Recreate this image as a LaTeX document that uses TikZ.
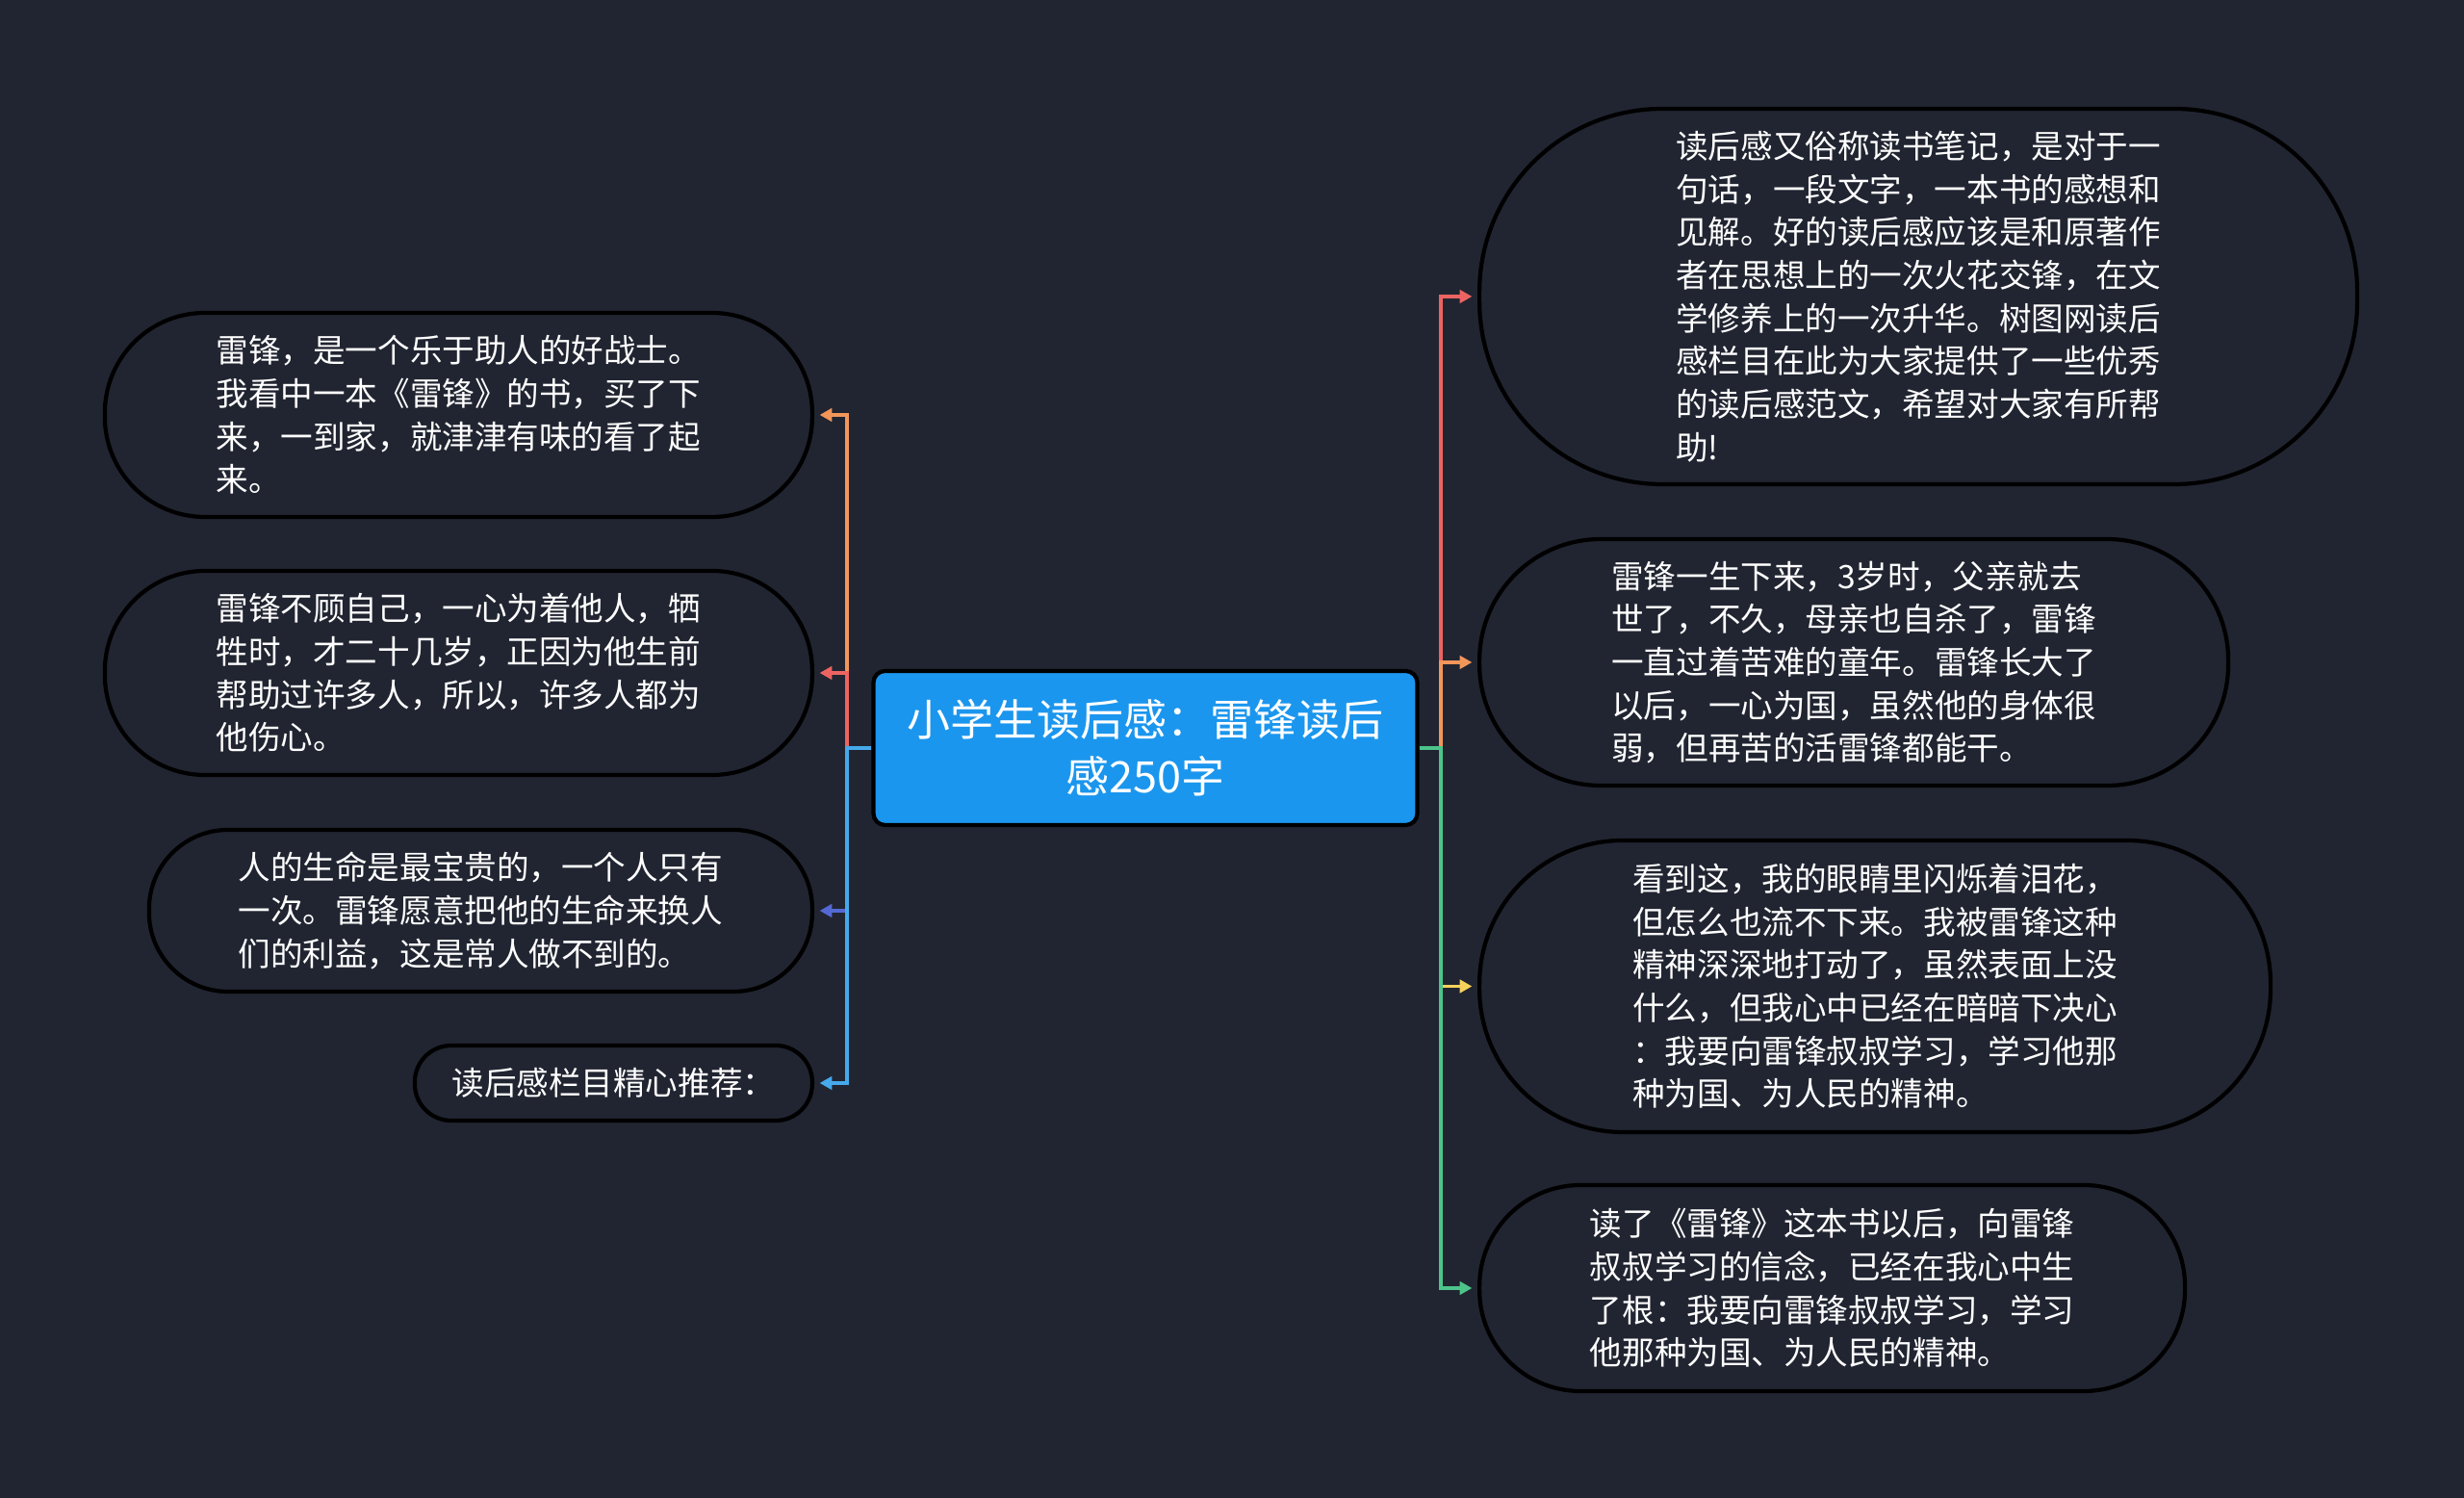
\documentclass[tikz,border=0pt]{standalone}
\usepackage{fontspec}
\setmainfont{Noto Sans CJK SC}
\definecolor{mmback}{RGB}{33,37,49}
\definecolor{mmblue}{RGB}{27,150,238}
\definecolor{mmred}{RGB}{236,100,98}
\definecolor{mmorange}{RGB}{242,150,90}
\definecolor{mmyellow}{RGB}{245,210,90}
\definecolor{mmgreen}{RGB}{76,196,138}
\definecolor{mmindigo}{RGB}{84,104,212}
\definecolor{mmsky}{RGB}{69,169,236}
\usetikzlibrary{arrows.meta,positioning}

\begin{document}
\begin{tikzpicture}[
  leaf/.style={draw=black, fill=mmback, line width=1.2pt, rounded corners=#1, text=white, align=left, font=\fontsize{9.55pt}{12.7pt}\selectfont},
  link/.style={line width=1.1pt, -{Triangle[length=3.6pt,width=3.8pt]}, shorten >=1.6pt},
]
  % background
  \useasboundingbox (0,0) rectangle (25.6,15.56);
  \fill[mmback] (0,0) rectangle (25.6,15.56);
  % root
  \node[draw=black, line width=1.2pt, fill=mmblue, rounded corners=0.12cm, minimum width=5.65cm, minimum height=1.6cm, text=white, align=center, font=\fontsize{12.8pt}{16.7pt}\selectfont] (main) at (11.90,7.79) {小学生读后感：雷锋读后\\感250字};
  % left branches
  \node[leaf=1.04cm, minimum width=7.35cm, minimum height=2.12cm, anchor=east] (l1) at (8.46,11.25) {雷锋，是一个乐于助人的好战士。\\我看中一本《雷锋》的书，买了下\\来，一到家，就津津有味的看了起\\来。};
  \node[leaf=1.04cm, minimum width=7.35cm, minimum height=2.12cm, anchor=east] (l2) at (8.46,8.57) {雷锋不顾自己，一心为着他人，牺\\牲时，才二十几岁，正因为他生前\\帮助过许多人，所以，许多人都为\\他伤心。};
  \node[leaf=0.82cm, minimum width=6.89cm, minimum height=1.68cm, anchor=east] (l3) at (8.46,6.10) {人的生命是最宝贵的，一个人只有\\一次。雷锋愿意把他的生命来换人\\们的利益，这是常人做不到的。};
  \node[leaf=0.38cm, minimum width=4.13cm, minimum height=0.78cm, anchor=east] (l4) at (8.46,4.31) {读后感栏目精心推荐：};
  % right branches
  \node[leaf=1.9cm, minimum width=9.12cm, minimum height=3.9cm, anchor=west] (r1) at (15.35,12.48) {读后感又俗称读书笔记，是对于一\\句话，一段文字，一本书的感想和\\见解。好的读后感应该是和原著作\\者在思想上的一次火花交锋，在文\\学修养上的一次升华。树图网读后\\感栏目在此为大家提供了一些优秀\\的读后感范文，希望对大家有所帮\\助!};
  \node[leaf=1.26cm, minimum width=7.78cm, minimum height=2.56cm, anchor=west] (r2) at (15.35,8.68) {雷锋一生下来，3岁时，父亲就去\\世了，不久，母亲也自杀了，雷锋\\一直过着苦难的童年。雷锋长大了\\以后，一心为国，虽然他的身体很\\弱，但再苦的活雷锋都能干。};
  \node[leaf=1.49cm, minimum width=8.22cm, minimum height=3.03cm, anchor=west] (r3) at (15.35,5.315) {看到这，我的眼睛里闪烁着泪花，\\但怎么也流不下来。我被雷锋这种\\精神深深地打动了，虽然表面上没\\什么，但我心中已经在暗暗下决心\\：我要向雷锋叔叔学习，学习他那\\种为国、为人民的精神。};
  \node[leaf=1.05cm, minimum width=7.33cm, minimum height=2.14cm, anchor=west] (r4) at (15.35,2.18) {读了《雷锋》这本书以后，向雷锋\\叔叔学习的信念，已经在我心中生\\了根：我要向雷锋叔叔学习，学习\\他那种为国、为人民的精神。};
  % connectors
  \draw[link, mmorange] (main.west) -- ++(-0.25,0) |- (l1.east);
  \draw[link, mmred] (main.west) -- ++(-0.25,0) |- (l2.east);
  \draw[link, mmindigo] (main.west) -- ++(-0.25,0) |- (l3.east);
  \draw[link, mmsky] (main.west) -- ++(-0.25,0) |- (l4.east);
  \draw[link, mmred] (main.east) -- ++(0.22,0) |- (r1.west);
  \draw[link, mmorange] (main.east) -- ++(0.22,0) |- (r2.west);
  \draw[link, mmyellow] (main.east) -- ++(0.22,0) |- (r3.west);
  \draw[link, mmgreen] (main.east) -- ++(0.22,0) |- (r4.west);
\end{tikzpicture}
\end{document}
